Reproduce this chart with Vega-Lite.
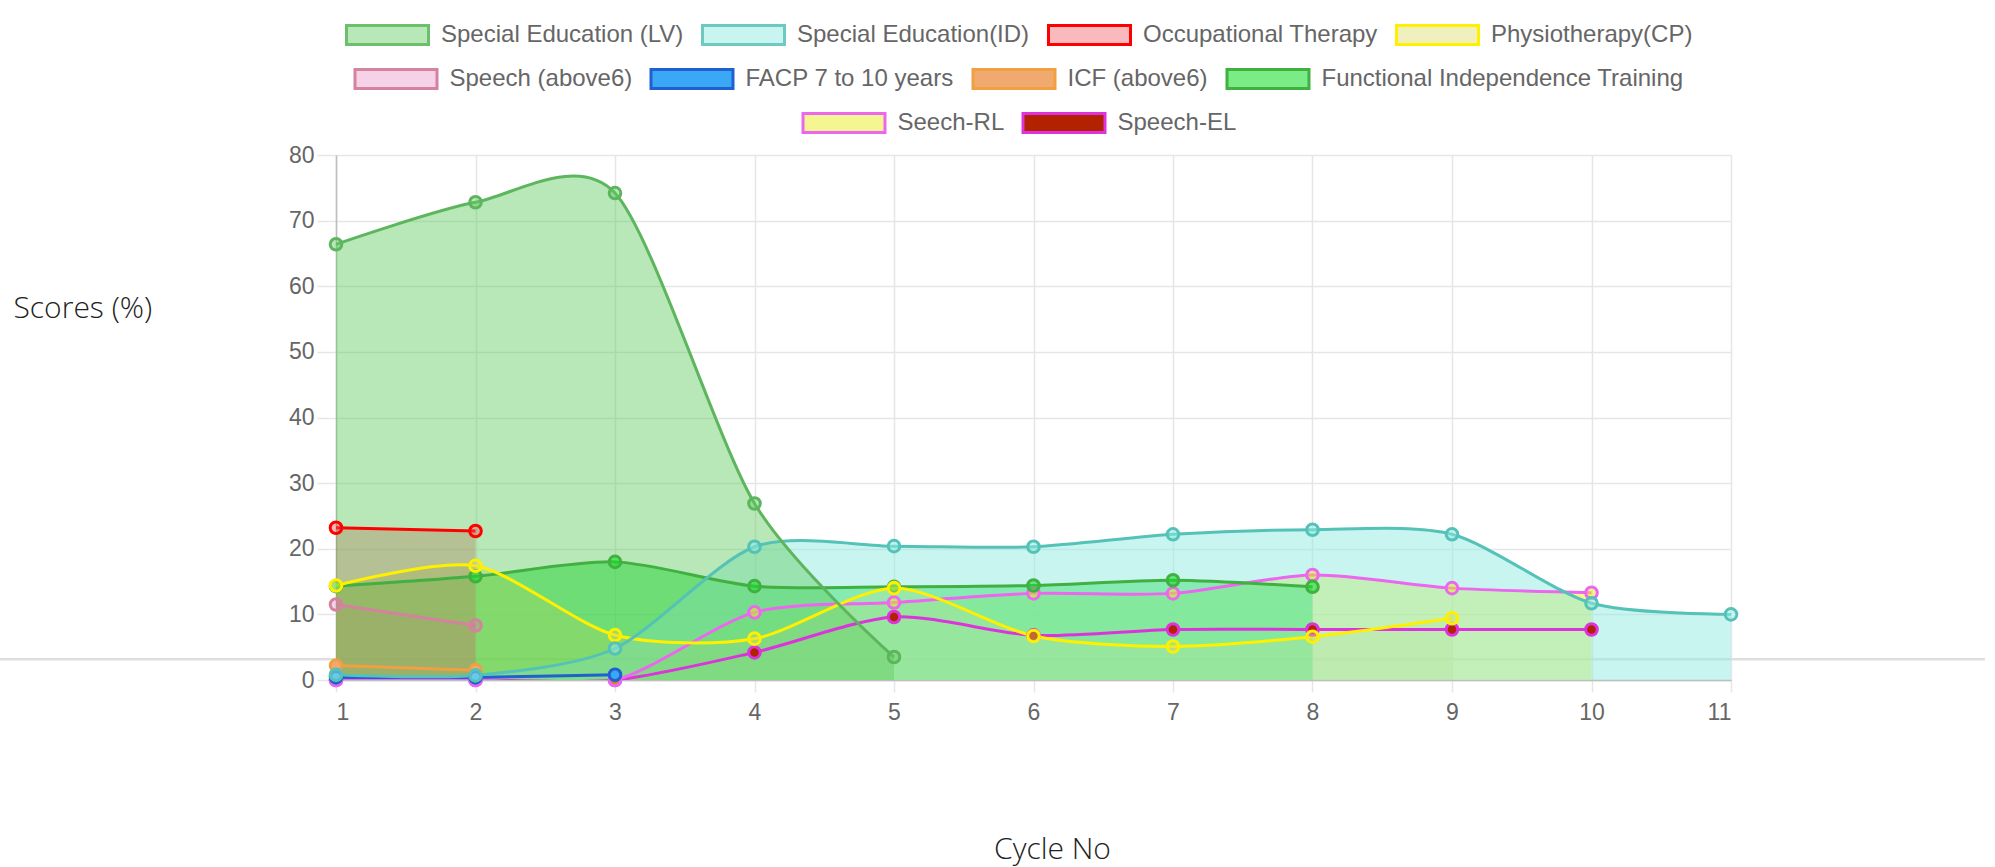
{
  "$schema": "https://vega.github.io/schema/vega-lite/v6.json",
  "width": 1395,
  "height": 525,
  "autosize": {"type": "none"},
  "padding": {"left": 336, "top": 155, "right": 264, "bottom": 187},
  "background": "white",
  "datasets": {
    "scores": [
      {"series": "Speech-EL", "x": 1, "v": 0},
      {"series": "Speech-EL", "x": 2, "v": 0},
      {"series": "Speech-EL", "x": 3, "v": 0},
      {"series": "Speech-EL", "x": 4, "v": 4.2},
      {"series": "Speech-EL", "x": 5, "v": 9.6},
      {"series": "Speech-EL", "x": 6, "v": 6.8},
      {"series": "Speech-EL", "x": 7, "v": 7.7},
      {"series": "Speech-EL", "x": 8, "v": 7.7},
      {"series": "Speech-EL", "x": 9, "v": 7.7},
      {"series": "Speech-EL", "x": 10, "v": 7.7},
      {"series": "Seech-RL", "x": 1, "v": 0},
      {"series": "Seech-RL", "x": 2, "v": 0},
      {"series": "Seech-RL", "x": 3, "v": 0},
      {"series": "Seech-RL", "x": 4, "v": 10.3},
      {"series": "Seech-RL", "x": 5, "v": 11.8},
      {"series": "Seech-RL", "x": 6, "v": 13.2},
      {"series": "Seech-RL", "x": 7, "v": 13.2},
      {"series": "Seech-RL", "x": 8, "v": 16.0},
      {"series": "Seech-RL", "x": 9, "v": 14.0},
      {"series": "Seech-RL", "x": 10, "v": 13.3},
      {"series": "Functional Independence Training", "x": 1, "v": 14.3},
      {"series": "Functional Independence Training", "x": 2, "v": 15.8},
      {"series": "Functional Independence Training", "x": 3, "v": 18.0},
      {"series": "Functional Independence Training", "x": 4, "v": 14.3},
      {"series": "Functional Independence Training", "x": 5, "v": 14.2},
      {"series": "Functional Independence Training", "x": 6, "v": 14.4},
      {"series": "Functional Independence Training", "x": 7, "v": 15.2},
      {"series": "Functional Independence Training", "x": 8, "v": 14.2},
      {"series": "ICF (above6)", "x": 1, "v": 2.2},
      {"series": "ICF (above6)", "x": 2, "v": 1.5},
      {"series": "FACP 7 to 10 years", "x": 1, "v": 0.4},
      {"series": "FACP 7 to 10 years", "x": 2, "v": 0.4},
      {"series": "FACP 7 to 10 years", "x": 3, "v": 0.8},
      {"series": "Speech (above6)", "x": 1, "v": 11.5},
      {"series": "Speech (above6)", "x": 2, "v": 8.3},
      {"series": "Physiotherapy(CP)", "x": 1, "v": 14.4},
      {"series": "Physiotherapy(CP)", "x": 2, "v": 17.4},
      {"series": "Physiotherapy(CP)", "x": 3, "v": 6.85},
      {"series": "Physiotherapy(CP)", "x": 4, "v": 6.3},
      {"series": "Physiotherapy(CP)", "x": 5, "v": 14.0},
      {"series": "Physiotherapy(CP)", "x": 6, "v": 6.7},
      {"series": "Physiotherapy(CP)", "x": 7, "v": 5.1},
      {"series": "Physiotherapy(CP)", "x": 8, "v": 6.6},
      {"series": "Physiotherapy(CP)", "x": 9, "v": 9.4},
      {"series": "Occupational Therapy", "x": 1, "v": 23.2},
      {"series": "Occupational Therapy", "x": 2, "v": 22.7},
      {"series": "Special Education(ID)", "x": 1, "v": 0.8},
      {"series": "Special Education(ID)", "x": 2, "v": 0.7},
      {"series": "Special Education(ID)", "x": 3, "v": 4.8},
      {"series": "Special Education(ID)", "x": 4, "v": 20.3},
      {"series": "Special Education(ID)", "x": 5, "v": 20.4},
      {"series": "Special Education(ID)", "x": 6, "v": 20.3},
      {"series": "Special Education(ID)", "x": 7, "v": 22.2},
      {"series": "Special Education(ID)", "x": 8, "v": 22.9},
      {"series": "Special Education(ID)", "x": 9, "v": 22.2},
      {"series": "Special Education(ID)", "x": 10, "v": 11.7},
      {"series": "Special Education(ID)", "x": 11, "v": 10.0},
      {"series": "Special Education (LV)", "x": 1, "v": 66.4},
      {"series": "Special Education (LV)", "x": 2, "v": 72.8},
      {"series": "Special Education (LV)", "x": 3, "v": 74.2},
      {"series": "Special Education (LV)", "x": 4, "v": 26.9},
      {"series": "Special Education (LV)", "x": 5, "v": 3.5}
    ]
  },
  "config": {
    "view": {"stroke": null},
    "axis": {
      "labelFont": "Liberation Sans",
      "labelFontSize": 23,
      "labelColor": "#666666",
      "gridColor": "#e6e6e6",
      "gridWidth": 1.5,
      "tickColor": "#e6e6e6",
      "tickWidth": 1.5,
      "domainColor": "#bdbdbd",
      "domainWidth": 1.5,
      "titleFont": "Open Sans",
      "titleFontWeight": 300,
      "titleFontSize": 30,
      "titleColor": "#222222"
    },
    "legend": {
      "orient": "top",
      "direction": "horizontal",
      "symbolType": "M-3.727,-0.864H3.727V0.864H-3.727Z",
      "symbolSize": 484,
      "symbolStrokeWidth": 3,
      "labelFont": "Liberation Sans",
      "labelFontSize": 24,
      "labelColor": "#666666",
      "labelOffset": 41,
      "columnPadding": 12,
      "labelLimit": 0,
      "offset": 16,
      "layout": {"top": {"anchor": "middle", "direction": "vertical", "center": true, "margin": 15}}
    }
  },
  "layer": [
    {
      "data": {"name": "scores"},
      "encoding": {
        "x": {
          "field": "x",
          "type": "quantitative",
          "scale": {"domain": [1, 11], "nice": false, "zero": false},
          "axis": {
            "title": "Cycle No",
            "values": [1, 2, 3, 4, 5, 6, 7, 8, 9, 10, 11],
            "format": "d",
            "tickSize": 12,
            "labelPadding": 9,
            "titleX": 716,
            "titleY": 169,
            "titleBaseline": "middle"
          }
        },
        "y": {
          "field": "v",
          "type": "quantitative",
          "stack": null,
          "scale": {"domain": [0, 80], "nice": false},
          "axis": {
            "title": "Scores (%)",
            "values": [0, 10, 20, 30, 40, 50, 60, 70, 80],
            "tickSize": 19,
            "labelPadding": 3,
            "titleAngle": 0,
            "titleAlign": "left",
            "titleBaseline": "middle",
            "titleX": -323,
            "titleY": 153
          }
        }
      },
      "layer": [
        {
          "data": {"values": [{"x": -1.41, "xe": 12.82, "v": 3.15}]},
          "mark": {"type": "rule", "color": "#dedede", "strokeWidth": 2.5, "clip": false},
          "encoding": {"x2": {"field": "xe"}}
        },
        {
          "transform": [{"filter": {"field": "series", "oneOf": ["Special Education (LV)", "Special Education(ID)", "Occupational Therapy", "Physiotherapy(CP)", "Speech (above6)", "Functional Independence Training", "Seech-RL"]}}],
          "mark": {"type": "area", "interpolate": "cardinal", "tension": 0.2, "clip": true},
          "encoding": {
            "fill": {
              "field": "series", "type": "nominal", "legend": null,
              "scale": {
                "domain": ["Special Education (LV)", "Special Education(ID)", "Occupational Therapy", "Physiotherapy(CP)", "Speech (above6)", "FACP 7 to 10 years", "ICF (above6)", "Functional Independence Training", "Seech-RL", "Speech-EL"],
                "range": ["rgba(97,204,97,0.45)", "rgba(145,235,225,0.5)", "rgba(240,80,90,0.4)", "rgba(218,218,92,0.4)", "rgba(222,105,178,0.3)", "#3aa8f5", "#f0aa70", "rgba(25,220,45,0.58)", "rgba(235,235,35,0.5)", "#b32200"]
              }
            }
          }
        },
        {
          "mark": {"type": "line", "interpolate": "cardinal", "tension": 0.2, "strokeWidth": 3, "clip": true},
          "encoding": {
            "stroke": {
              "field": "series", "type": "nominal", "legend": null,
              "scale": {
                "domain": ["Special Education (LV)", "Special Education(ID)", "Occupational Therapy", "Physiotherapy(CP)", "Speech (above6)", "FACP 7 to 10 years", "ICF (above6)", "Functional Independence Training", "Seech-RL", "Speech-EL"],
                "range": ["#5db55d", "#55c2b8", "#ff0000", "#fff000", "#d4829e", "#2060d0", "#f0a040", "#40b040", "#ec66f0", "#dd33dd"]
              }
            }
          }
        },
        {
          "mark": {"type": "point", "shape": "circle", "filled": true, "size": 135, "strokeWidth": 3, "opacity": 1},
          "encoding": {
            "fill": {"field": "series", "type": "nominal", "legend": null},
            "stroke": {"field": "series", "type": "nominal", "legend": null}
          }
        }
      ]
    },
    {
      "data": {"name": "scores"},
      "transform": [{"filter": "datum.x > 100"}],
      "mark": {"type": "point", "shape": "M-3.727,-0.864H3.727V0.864H-3.727Z", "filled": true, "opacity": 1, "size": 484, "strokeWidth": 3},
      "encoding": {
        "fill": {"field": "series", "type": "nominal", "legend": {"title": null},
          "scale": {"domain": ["Special Education (LV)", "Special Education(ID)", "Occupational Therapy", "Physiotherapy(CP)"],
                    "range": ["rgba(97,204,97,0.45)", "rgba(145,235,225,0.5)", "rgba(240,80,90,0.4)", "rgba(218,218,92,0.4)"]}},
        "stroke": {"field": "series", "type": "nominal", "legend": {"title": null},
          "scale": {"domain": ["Special Education (LV)", "Special Education(ID)", "Occupational Therapy", "Physiotherapy(CP)"],
                    "range": ["#6cbf6c", "#6ccac0", "#ff0000", "#fff000"]}}
      }
    },
    {
      "data": {"name": "scores"},
      "transform": [{"filter": "datum.x > 100"}],
      "mark": {"type": "point", "shape": "M-3.727,-0.864H3.727V0.864H-3.727Z", "filled": true, "opacity": 1, "size": 484, "strokeWidth": 3},
      "encoding": {
        "fill": {"field": "series", "type": "nominal", "legend": {"title": null},
          "scale": {"domain": ["Speech (above6)", "FACP 7 to 10 years", "ICF (above6)", "Functional Independence Training"],
                    "range": ["rgba(222,105,178,0.3)", "#3aa8f5", "#f0aa70", "rgba(25,220,45,0.58)"]}},
        "stroke": {"field": "series", "type": "nominal", "legend": {"title": null},
          "scale": {"domain": ["Speech (above6)", "FACP 7 to 10 years", "ICF (above6)", "Functional Independence Training"],
                    "range": ["#d4829e", "#2060d0", "#f0a040", "#40b040"]}}
      }
    },
    {
      "data": {"name": "scores"},
      "transform": [{"filter": "datum.x > 100"}],
      "mark": {"type": "point", "shape": "M-3.727,-0.864H3.727V0.864H-3.727Z", "filled": true, "opacity": 1, "size": 484, "strokeWidth": 3},
      "encoding": {
        "fill": {"field": "series", "type": "nominal", "legend": {"title": null},
          "scale": {"domain": ["Seech-RL", "Speech-EL"],
                    "range": ["rgba(235,235,35,0.5)", "#b32200"]}},
        "stroke": {"field": "series", "type": "nominal", "legend": {"title": null},
          "scale": {"domain": ["Seech-RL", "Speech-EL"],
                    "range": ["#ec66f0", "#dd33dd"]}}
      }
    }
  ],
  "resolve": {"scale": {"fill": "independent", "stroke": "independent"}}
}
